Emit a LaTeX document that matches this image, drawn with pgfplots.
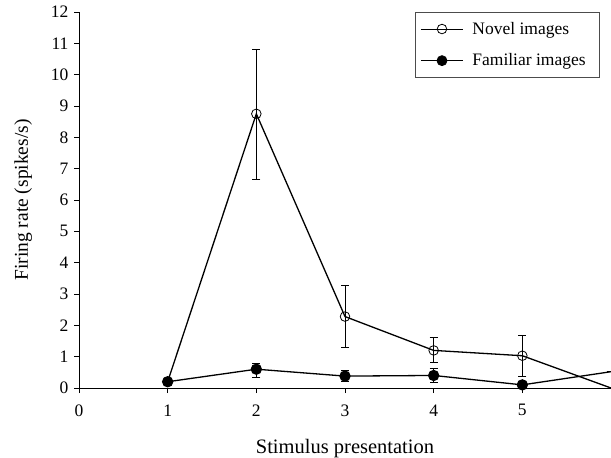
\documentclass[border=0pt]{standalone}
\usepackage{pgfplots}
\pgfplotsset{compat=1.18}
\usepackage{fontspec}
\setmainfont{Liberation Serif}
\usetikzlibrary{calc}
\pgfplotstableread{
x y ep em
1 0.20 0.05 0.05
2 8.75 2.05 2.10
3 2.28 0.98 0.98
4 1.20 0.40 0.39
5 1.03 0.63 0.67
6 0.00 0 0
}\novel
\pgfplotstableread{
x y ep em
1 0.20 0.05 0.05
2 0.60 0.17 0.26
3 0.38 0.17 0.18
4 0.40 0.21 0.23
5 0.10 0.03 0.03
6 0.52 0 0
}\familiar
\begin{document}
\begin{tikzpicture}
\begin{axis}[
  name=ax,
  scale only axis,
  width=532pt, height=376pt,
  xmin=0, xmax=6, ymin=0, ymax=12,
  axis x line=bottom, axis y line=left,
  axis line style={-, line width=0.8pt},
  xtick={0,1,2,3,4,5}, ytick={0,1,...,12},
  tick align=outside, major tick length=5pt,
  tick style={black, line width=0.6pt},
  tick label style={font=\fontsize{17.5}{20}\selectfont},
  xticklabel style={yshift=-8pt},
  yticklabel style={xshift=-2pt},
  /pgf/number format/assume math mode=true,
  xlabel={Stimulus presentation},
  ylabel={Firing rate (spikes/s)},
  xlabel style={font=\fontsize{20.5}{24}\selectfont, yshift=-16pt},
  ylabel style={font=\fontsize{19.5}{24}\selectfont, yshift=12pt},
  clip mode=individual,
  legend style={at={(0.979,1)}, anchor=north east, draw=black!70,
    font=\fontsize{17.5}{20}\selectfont, row sep=14pt,
    inner xsep=5pt, inner ysep=8pt,
    nodes={inner xsep=9pt}},
  legend cell align=left,
  legend image code/.code={
    \draw[#1, line width=0.8pt, mark=none] (0pt,0pt) -- (42pt,0pt);
    \draw[#1, line width=0.8pt, only marks] plot coordinates {(21pt,0pt)};},
  every axis plot/.append style={line width=1.3pt},
]
\addplot[black, mark=o, mark size=4.8pt, mark indices={1,2,3,4,5},
  mark options={fill=white, line width=0.8pt},
  error bars/.cd, y dir=both, y explicit, error mark options={rotate=90, mark size=4pt, line width=1pt}]
  table[x=x, y=y, y error plus=ep, y error minus=em] {\novel};
\addlegendentry{Novel images}
\addplot[black, mark=*, mark size=5pt, mark indices={1,2,3,4,5},
  mark options={fill=black},
  error bars/.cd, y dir=both, y explicit, error mark options={rotate=90, mark size=4pt, line width=1pt}]
  table[x=x, y=y, y error plus=ep, y error minus=em] {\familiar};
\addlegendentry{Familiar images}
\end{axis}
\pgfresetboundingbox
\path[use as bounding box] ($(ax.south west)+(-79pt,-69pt)$) rectangle ($(ax.north east)+(0pt,12pt)$);
\end{tikzpicture}
\end{document}
